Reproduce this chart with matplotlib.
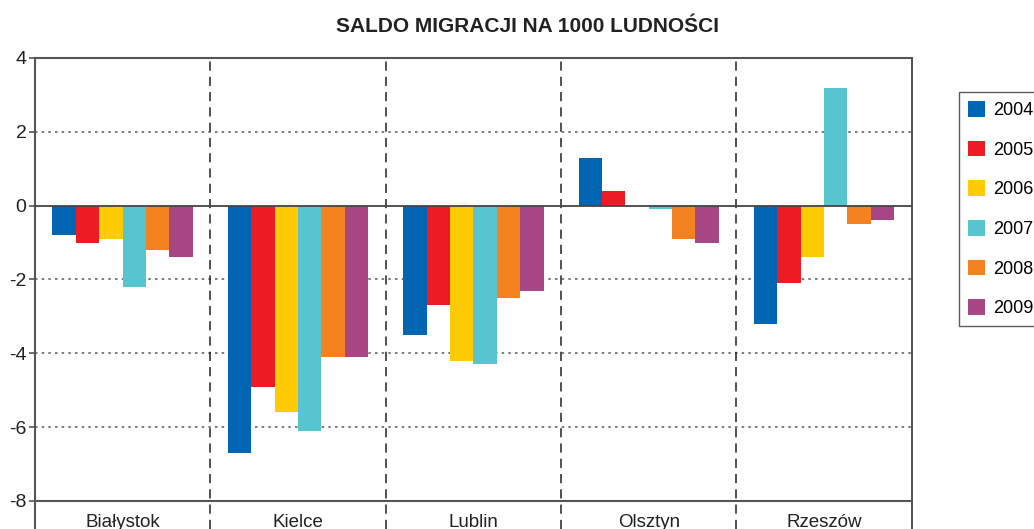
import matplotlib.pyplot as plt
import numpy as np

plt.rcParams['font.family'] = ['Liberation Sans', 'DejaVu Sans']

cities = ["Białystok", "Kielce", "Lublin", "Olsztyn", "Rzeszów"]
years = ["2004", "2005", "2006", "2007", "2008", "2009"]
colors = ["#0066b3", "#ed1c24", "#ffcb05", "#56c5d0", "#f58220", "#a64685"]

v2004 = [-0.8, -6.7, -3.5, 1.3, -3.2]
v2005 = [-1.0, -4.9, -2.7, 0.4, -2.1]
v2006 = [-0.9, -5.6, -4.2, 0.0, -1.4]
v2007 = [-2.2, -6.1, -4.3, -0.1, 3.2]
v2008 = [-1.2, -4.1, -2.5, -0.9, -0.5]
v2009 = [-1.4, -4.1, -2.3, -1.0, -0.4]
series = [v2004, v2005, v2006, v2007, v2008, v2009]

fig = plt.figure(figsize=(10.34, 5.29), dpi=100)
ax = fig.add_axes([0.0338, 0.0, 0.848, 0.8904])

x = np.arange(len(cities))
w = 0.8 / len(years)
for i, (vals, c, yr) in enumerate(zip(series, colors, years)):
    ax.bar(x - 0.4 + w * (i + 0.5), vals, width=w, color=c, label=yr, zorder=3)

ax.set_xlim(-0.5, len(cities) - 0.5)
ax.set_ylim(-8.76, 4)

# grid and frame lines
for g in [2, -2, -4, -6]:
    ax.axhline(g, color="#666666", lw=1.2, ls=(0, (1.5, 2.5)), zorder=1)
ax.axhline(0, color="#444444", lw=1.3, zorder=4)
ax.axhline(4, color="#555555", lw=1.5, zorder=4, clip_on=False)
ax.axhline(-8, color="#555555", lw=1.5, zorder=4)
for b in np.arange(0.5, len(cities) - 0.5, 1):
    ax.axvline(b, color="#222222", lw=1.1, ls=(0, (6, 4)), zorder=2)

for s in ["top", "bottom"]:
    ax.spines[s].set_visible(False)
ax.spines["left"].set_color("#555555")
ax.spines["left"].set_linewidth(1.5)
ax.spines["right"].set_color("#333333")
ax.spines["right"].set_linewidth(1.2)

ax.set_yticks([4, 2, 0, -2, -4, -6, -8])
ax.set_yticklabels(["4", "2", "0", "-2", "-4", "-6", "-8"], fontsize=14, color="#222222")
ax.tick_params(axis="y", length=4, width=1.2, color="#555555", pad=2)
ax.set_xticks([])

for xi, name in zip(x, cities):
    ax.text(xi, -8.36, name, ha="center", va="top", fontsize=13.5, color="#222222")

fig.text(0.51, 0.95, "SALDO MIGRACJI NA 1000 LUDNOŚCI", ha="center", va="center",
         fontsize=15, fontweight="bold", color="#222222")

leg = fig.legend(loc="upper left", bbox_to_anchor=(959 / 1034, 1 - 92 / 529),
                 fontsize=13, frameon=True, fancybox=False, edgecolor="#333333",
                 handlelength=0.95, handleheight=0.95, labelspacing=1.2,
                 borderpad=0.5, handletextpad=0.45, borderaxespad=0)
leg.get_frame().set_linewidth(1.0)

fig.savefig("out.png", dpi=100)
